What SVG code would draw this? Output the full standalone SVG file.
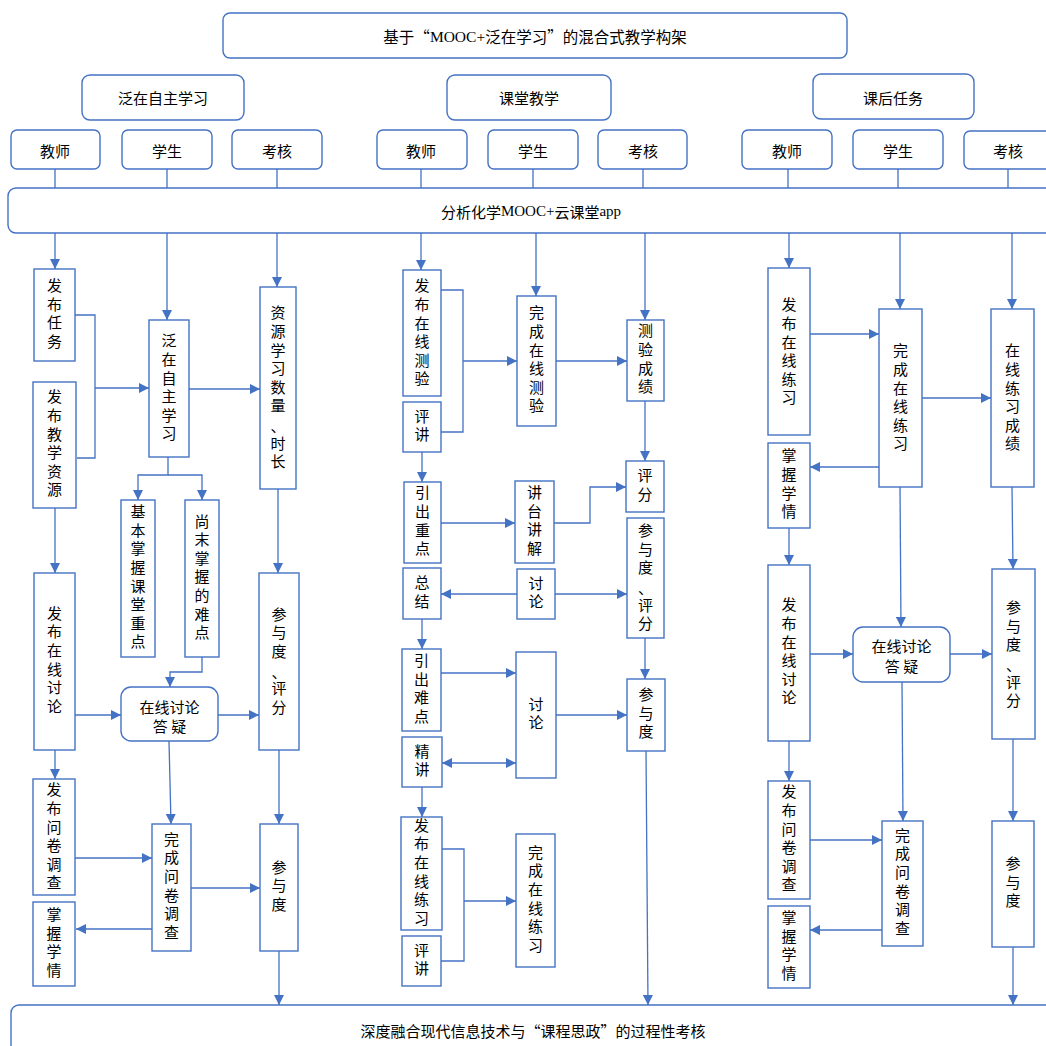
<svg xmlns="http://www.w3.org/2000/svg" width="1046" height="1046" viewBox="0 0 1046 1046">
<style>
.b{fill:#fff;stroke:#4472C4;stroke-width:1.4}
.t{font-family:"Noto Sans CJK SC",sans-serif;font-size:15px;fill:#000;text-anchor:middle;dominant-baseline:central}
.s{font-family:"Liberation Serif","Noto Sans CJK SC",serif}
.v{writing-mode:vertical-rl;letter-spacing:3.6px}
.c{fill:none;stroke:#4472C4;stroke-width:1.3}
.a{marker-end:url(#ah)}
</style>
<defs>
<marker id="ah" viewBox="0 0 10 10" refX="10" refY="5" markerWidth="10" markerHeight="10" markerUnits="userSpaceOnUse" orient="auto-start-reverse"><path d="M0,0 L10,5 L0,10 z" fill="#4472C4"/></marker>
</defs>
<rect width="1046" height="1046" fill="#fff"/>

<g id="connectors">
<path class="c" d="M55,169V188 M167,169V188 M277,169V188 M421,169V188 M533,169V188 M643,169V188 M788,169V188 M898,169V188 M1008,169V188"/>
<path class="c a" d="M55,233V269"/>
<path class="c a" d="M167,233V320"/>
<path class="c a" d="M277,233V287"/>
<path class="c a" d="M421,233V270"/>
<path class="c a" d="M536,233V296"/>
<path class="c a" d="M645,233V320"/>
<path class="c a" d="M789,233V268"/>
<path class="c a" d="M900,233V309"/>
<path class="c a" d="M1012,233V309"/>
<!-- left -->
<path class="c" d="M75,315H95V458H77"/>
<path class="c a" d="M95,388H149"/>
<path class="c a" d="M189,389H260"/>
<path class="c a" d="M168,457V475H138V500"/>
<path class="c a" d="M168,475H202V500"/>
<path class="c a" d="M55,508V573"/>
<path class="c a" d="M75,715H121"/>
<path class="c a" d="M202,657V672H170V687"/>
<path class="c a" d="M218,715H259"/>
<path class="c a" d="M278,489V573"/>
<path class="c a" d="M55,750V779"/>
<path class="c a" d="M169,741L171,824"/>
<path class="c a" d="M75,858H152"/>
<path class="c a" d="M191,888H260"/>
<path class="c a" d="M152,929H76"/>
<path class="c a" d="M279,750V824"/>
<path class="c a" d="M279,951V1005"/>
<!-- middle -->
<path class="c" d="M441,290H463V432H441"/>
<path class="c a" d="M463,361H517"/>
<path class="c a" d="M556,361H627"/>
<path class="c a" d="M645,401V461"/>
<path class="c a" d="M422,452V482"/>
<path class="c a" d="M441,523H515"/>
<path class="c a" d="M554,523H590V487H626"/>
<path class="c a" d="M517,594H441"/>
<path class="c a" d="M555,594H627"/>
<path class="c a" d="M645,638V679"/>
<path class="c a" d="M422,619V649"/>
<path class="c a" d="M441,673H516"/>
<path class="c a" d="M442,763H516" marker-start="url(#ah)"/>
<path class="c a" d="M556,715H627"/>
<path class="c a" d="M646,751L648,1005"/>
<path class="c a" d="M422,787V817"/>
<path class="c" d="M442,849H464V961H441"/>
<path class="c a" d="M464,901H516"/>
<!-- right -->
<path class="c a" d="M810,334H879"/>
<path class="c a" d="M922,398H991"/>
<path class="c a" d="M879,467H810"/>
<path class="c a" d="M789,528V565"/>
<path class="c a" d="M900,487L901,627"/>
<path class="c a" d="M1012,487L1013,569"/>
<path class="c a" d="M810,654H853"/>
<path class="c a" d="M950,654H992"/>
<path class="c a" d="M789,741V781"/>
<path class="c a" d="M902,682L903,821"/>
<path class="c a" d="M810,840H882"/>
<path class="c a" d="M882,930H810"/>
<path class="c a" d="M1013,739V821"/>
<path class="c a" d="M1013,947V1005"/>
</g>

<g id="title"><rect class="b" x="223" y="13" width="624" height="45" rx="7"/><text class="t" x="535" y="36" style="font-size:15.5px">基于“<tspan class="s">MOOC+</tspan>泛在学习”的混合式教学构架</text></g>
<g id="h1"><rect class="b" x="82" y="75" width="162" height="45" rx="8"/><text class="t" x="163" y="97">泛在自主学习</text></g>
<g id="h2"><rect class="b" x="447" y="75" width="164" height="45" rx="8"/><text class="t" x="529" y="97">课堂教学</text></g>
<g id="h3"><rect class="b" x="813" y="74" width="161" height="45" rx="8"/><text class="t" x="893" y="97">课后任务</text></g>

<g id="r1"><rect class="b" x="11" y="130" width="89" height="39" rx="6"/><text class="t" x="55" y="150">教师</text></g>
<g id="r2"><rect class="b" x="122" y="130" width="90" height="39" rx="6"/><text class="t" x="167" y="150">学生</text></g>
<g id="r3"><rect class="b" x="232" y="130" width="90" height="39" rx="6"/><text class="t" x="277" y="150">考核</text></g>
<g id="r4"><rect class="b" x="377" y="130" width="90" height="39" rx="6"/><text class="t" x="421" y="150">教师</text></g>
<g id="r5"><rect class="b" x="488" y="130" width="90" height="39" rx="6"/><text class="t" x="533" y="150">学生</text></g>
<g id="r6"><rect class="b" x="598" y="130" width="89" height="39" rx="6"/><text class="t" x="643" y="150">考核</text></g>
<g id="r7"><rect class="b" x="742" y="130" width="90" height="39" rx="6"/><text class="t" x="787" y="150">教师</text></g>
<g id="r8"><rect class="b" x="853" y="130" width="90" height="39" rx="6"/><text class="t" x="898" y="150">学生</text></g>
<g id="r9"><rect class="b" x="964" y="131" width="90" height="38" rx="6"/><text class="t" x="1008" y="150">考核</text></g>

<g id="platform"><rect class="b" x="8" y="188" width="1060" height="45" rx="8"/><text class="t" x="531" y="211">分析化学<tspan class="s">MOOC+</tspan>云课堂<tspan class="s">app</tspan></text></g>
<g id="bottom"><rect class="b" x="11" y="1005" width="1060" height="60" rx="8"/><text class="t" x="533" y="1030">深度融合现代信息技术与“课程思政”的过程性考核</text></g>

<!-- left column -->
<g id="l1"><rect class="b" x="34" y="269" width="41" height="92"/><text class="t v" x="54.5" y="315">发布任务</text></g>
<g id="l2"><rect class="b" x="33" y="382" width="43" height="126"/><text class="t v" x="54.5" y="445">发布教学资源</text></g>
<g id="l3"><rect class="b" x="149" y="320" width="40" height="137"/><text class="t v" x="169" y="389">泛在自主学习</text></g>
<g id="l4"><rect class="b" x="260" y="287" width="36" height="202"/><text class="t v" x="278" y="361">资源学习数量</text><text class="t" x="278" y="425">、</text><text class="t v" x="278" y="454">时长</text></g>
<g id="l5"><rect class="b" x="121" y="500" width="34" height="157"/><text class="t v" x="138" y="578.5">基本掌握课堂重点</text></g>
<g id="l6"><rect class="b" x="185" y="500" width="34" height="157"/><text class="t v" x="202" y="578.5">尚末掌握的难点</text></g>
<g id="l7"><rect class="b" x="34" y="573" width="41" height="177"/><text class="t v" x="54.5" y="661.5">发布在线讨论</text></g>
<g id="l8"><rect class="b" x="121" y="687" width="97" height="54" rx="10"/><text class="t" x="169.5" y="706">在线讨论</text><text class="t" x="169.5" y="725">答 疑</text></g>
<g id="l9"><rect class="b" x="259" y="573" width="40" height="177"/><text class="t v" x="279" y="634.5">参与度</text><text class="t" x="279" y="671">、</text><text class="t v" x="279" y="699.5">评分</text></g>
<g id="l10"><rect class="b" x="33" y="779" width="42" height="116"/><text class="t v" x="54" y="838">发布问卷调查</text></g>
<g id="l11"><rect class="b" x="33" y="902" width="42" height="84"/><text class="t v" x="54" y="944">掌握学情</text></g>
<g id="l12"><rect class="b" x="152" y="824" width="39" height="127"/><text class="t v" x="171.5" y="887.5">完成问卷调查</text></g>
<g id="l13"><rect class="b" x="260" y="824" width="38" height="127"/><text class="t v" x="279" y="887.5">参与度</text></g>

<!-- middle column -->
<g id="m1"><rect class="b" x="403" y="270" width="38" height="126"/><text class="t v" x="422" y="334">发布在线测验</text></g>
<g id="m2"><rect class="b" x="403" y="402" width="38" height="50"/><text class="t v" x="422" y="427">评讲</text></g>
<g id="m3"><rect class="b" x="517" y="296" width="39" height="130"/><text class="t v" x="536.5" y="361">完成在线测验</text></g>
<g id="m4"><rect class="b" x="627" y="320" width="37" height="81"/><text class="t v" x="645.5" y="360.5">测验成绩</text></g>
<g id="m5"><rect class="b" x="626" y="461" width="38" height="51"/><text class="t v" x="645" y="486.5">评分</text></g>
<g id="m6"><rect class="b" x="404" y="482" width="37" height="81"/><text class="t v" x="422.5" y="522.5">引出重点</text></g>
<g id="m7"><rect class="b" x="515" y="481" width="39" height="82"/><text class="t v" x="534.5" y="522">讲台讲解</text></g>
<g id="m8"><rect class="b" x="627" y="518" width="37" height="120"/><text class="t v" x="645.5" y="551">参与度</text><text class="t" x="645.5" y="587.5">、</text><text class="t v" x="645.5" y="616">评分</text></g>
<g id="m9"><rect class="b" x="403" y="568" width="38" height="51"/><text class="t v" x="422" y="593.5">总结</text></g>
<g id="m10"><rect class="b" x="517" y="569" width="38" height="50"/><text class="t v" x="536" y="594">讨论</text></g>
<g id="m11"><rect class="b" x="402" y="649" width="39" height="82"/><text class="t v" x="421.5" y="690">引出难点</text></g>
<g id="m12"><rect class="b" x="402" y="737" width="40" height="50"/><text class="t v" x="422" y="762">精讲</text></g>
<g id="m13"><rect class="b" x="516" y="652" width="40" height="126"/><text class="t v" x="536" y="715">讨论</text></g>
<g id="m14"><rect class="b" x="627" y="679" width="38" height="72"/><text class="t v" x="646" y="715">参与度</text></g>
<g id="m15"><rect class="b" x="401" y="817" width="41" height="113"/><text class="t v" x="421.5" y="873.5">发布在线练习</text></g>
<g id="m16"><rect class="b" x="402" y="936" width="39" height="50"/><text class="t v" x="421.5" y="961">评讲</text></g>
<g id="m17"><rect class="b" x="516" y="834" width="39" height="133"/><text class="t v" x="535.5" y="900.5">完成在线练习</text></g>

<!-- right column -->
<g id="q1"><rect class="b" x="768" y="268" width="42" height="167"/><text class="t v" x="789" y="353">发布在线练习</text></g>
<g id="q2"><rect class="b" x="879" y="309" width="43" height="178"/><text class="t v" x="900.5" y="399">完成在线练习</text></g>
<g id="q3"><rect class="b" x="991" y="309" width="43" height="178"/><text class="t v" x="1012.5" y="399">在线练习成绩</text></g>
<g id="q4"><rect class="b" x="768" y="443" width="42" height="85"/><text class="t v" x="789" y="485.5">掌握学情</text></g>
<g id="q5"><rect class="b" x="768" y="565" width="42" height="176"/><text class="t v" x="789" y="653">发布在线讨论</text></g>
<g id="q6"><rect class="b" x="853" y="627" width="97" height="55" rx="10"/><text class="t" x="901.5" y="645">在线讨论</text><text class="t" x="901.5" y="665">答 疑</text></g>
<g id="q7"><rect class="b" x="992" y="569" width="43" height="170"/><text class="t v" x="1013.5" y="628">参与度</text><text class="t" x="1013.5" y="664.5">、</text><text class="t v" x="1013.5" y="693">评分</text></g>
<g id="q8"><rect class="b" x="768" y="781" width="42" height="118"/><text class="t v" x="789" y="840">发布问卷调查</text></g>
<g id="q9"><rect class="b" x="768" y="906" width="42" height="82"/><text class="t v" x="789" y="947">掌握学情</text></g>
<g id="q10"><rect class="b" x="882" y="821" width="41" height="125"/><text class="t v" x="902.5" y="883.5">完成问卷调查</text></g>
<g id="q11"><rect class="b" x="992" y="821" width="42" height="126"/><text class="t v" x="1013" y="884">参与度</text></g>
</svg>
